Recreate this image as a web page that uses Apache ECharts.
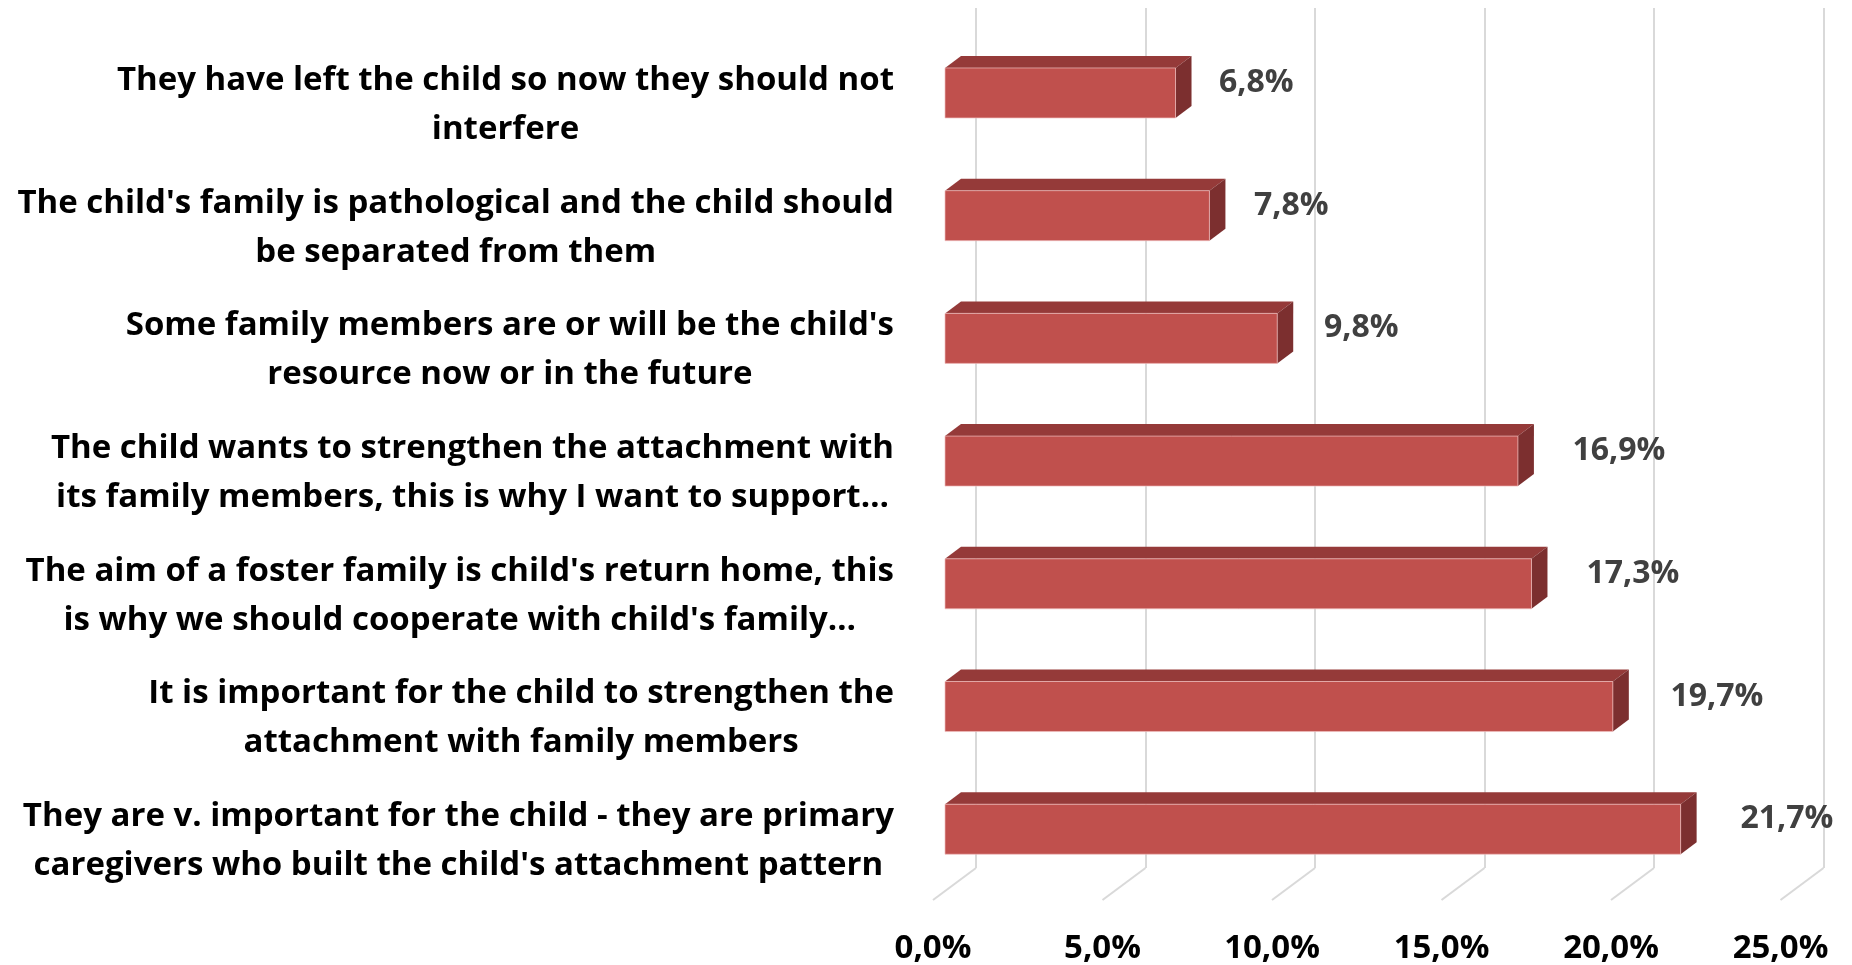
<!DOCTYPE html>
<html>
<head>
<meta charset="utf-8">
<title>Attitudes towards the child's family</title>
<script src="https://cdn.jsdelivr.net/npm/echarts@6/dist/echarts.min.js"></script>
<style>
  html, body { margin: 0; padding: 0; background: #ffffff; }
  #chart { width: 1852px; height: 965px; }
</style>
</head>
<body>
<div id="chart"></div>
<script>
// Category labels, top to bottom (line breaks as printed)
const categories = [
  "They have left the child so now they should not\ninterfere",
  "The child's family is pathological and the child should\nbe separated from them",
  "Some family members are or will be the child's\nresource now or in the future",
  "The child wants to strengthen the attachment with\nits family members, this is why I want to support\u2026",
  "The aim of a foster family is child's return home, this\nis why we should cooperate with child's family\u2026",
  "It is important for the child to strengthen the\nattachment with family members",
  "They are v. important for the child - they are primary\ncaregivers who built the child's attachment pattern"
];

// Share of answers, percent
const values = [6.8, 7.8, 9.8, 16.9, 17.3, 19.7, 21.7];

// Value axis ticks
const tickValues = [0, 5, 10, 15, 20, 25];

const FONT = '"Open Sans", Lato, sans-serif';
const CAT_FONT = 'bold 33px ' + FONT;
const VAL_FONT = 'bold 32px ' + FONT;
const AXIS_MAX = 25;
const DEPTH_X = 16, DEPTH_Y = 12;       // bar depth
const FLOOR_X = 43, FLOOR_Y = 32;       // floor depth
const fmt = v => v.toFixed(1).replace('.', ',') + '%';

// measure label lines so each block is right-aligned with centred lines
const measureCtx = document.createElement('canvas').getContext('2d');
measureCtx.font = CAT_FONT;
const blockWidth = s => Math.max(...s.split('\n').map(l => measureCtx.measureText(l).width));

const chart = echarts.init(document.getElementById('chart'), null, { renderer: 'canvas' });

function renderBar(params, api) {
  const v = api.value(0), idx = api.value(1);
  const p0 = api.coord([0, idx]);
  const p1 = api.coord([v, idx]);
  const band = api.size([0, 1])[1];
  const h = band * 0.4075;
  const x0 = p0[0], x1 = p1[0];
  const yt = p0[1] - h / 2, yb = p0[1] + h / 2;
  return {
    type: 'group',
    children: [
      { type: 'polygon', shape: { points: [[x0, yt], [x0 + DEPTH_X, yt - DEPTH_Y], [x1 + DEPTH_X, yt - DEPTH_Y], [x1, yt]] },
        style: { fill: '#953a39' } },
      { type: 'polygon', shape: { points: [[x1, yt], [x1 + DEPTH_X, yt - DEPTH_Y], [x1 + DEPTH_X, yb - DEPTH_Y], [x1, yb]] },
        style: { fill: '#7c2f2f' } },
      { type: 'rect', shape: { x: x0, y: yt, width: x1 - x0, height: h },
        style: { fill: '#c0504d', stroke: 'rgba(240,190,190,0.7)', lineWidth: 1 } },
      { type: 'text', x: x1 + DEPTH_X + 20 + 1.1 * v, y: p0[1] - 10,
        style: { text: fmt(v), fill: '#404040', font: VAL_FONT,
                 textAlign: 'left', textVerticalAlign: 'middle' } }
    ]
  };
}

function renderCategory(params, api) {
  const idx = api.value(1);
  const p = api.coord([0, idx]);
  const text = categories[idx];
  const right = p[0] - 51;
  return {
    type: 'text',
    x: right - blockWidth(text) / 2,
    y: p[1] + 12,
    style: { text: text, fill: '#000000', font: CAT_FONT,
             textAlign: 'center', textVerticalAlign: 'middle', lineHeight: 49 }
  };
}

function renderFloor(params, api) {
  const p = api.coord([api.value(0), 0]);
  return {
    type: 'line',
    shape: { x1: p[0], y1: p[1], x2: p[0] - FLOOR_X, y2: p[1] + FLOOR_Y },
    style: { stroke: '#d9d9d9', lineWidth: 2 }
  };
}

const option = {
  backgroundColor: '#ffffff',
  animation: false,
  grid: [
    // front plane of the bars
    { left: 945, width: 847.5, top: 31.6, height: 859 },
    // back wall with gridlines
    { left: 976, width: 847.5, top: 8, bottom: 97 },
    // front edge of the floor, carries the tick labels
    { left: 933, width: 847.5, top: 500, bottom: 65 }
  ],
  xAxis: [
    { gridIndex: 0, type: 'value', min: 0, max: AXIS_MAX, interval: 5, show: false },
    { gridIndex: 1, type: 'value', min: 0, max: AXIS_MAX, interval: 5,
      axisLine: { show: false }, axisTick: { show: false }, axisLabel: { show: false },
      splitLine: { show: true, lineStyle: { color: '#d9d9d9', width: 2 } } },
    { gridIndex: 2, type: 'value', min: 0, max: AXIS_MAX, interval: 5,
      axisLine: { show: false }, axisTick: { show: false }, splitLine: { show: false },
      axisLabel: { margin: 32, formatter: v => fmt(v), color: '#000000',
                   fontFamily: FONT, fontWeight: 'bold', fontSize: 33, lineHeight: 33 } }
  ],
  yAxis: [
    { gridIndex: 0, type: 'category', inverse: true, data: categories, show: false },
    { gridIndex: 1, type: 'value', min: 0, max: 1, show: false },
    { gridIndex: 2, type: 'value', min: 0, max: 1, show: false }
  ],
  series: [
    { type: 'custom', name: 'floor', xAxisIndex: 1, yAxisIndex: 1, silent: true,
      data: tickValues.map(v => [v]), encode: { x: 0 }, renderItem: renderFloor, z: 1 },
    { type: 'custom', name: 'share', xAxisIndex: 0, yAxisIndex: 0,
      data: values.map((v, i) => [v, i]), encode: { x: 0, y: 1 }, renderItem: renderBar, z: 3 },
    { type: 'custom', name: 'categories', xAxisIndex: 0, yAxisIndex: 0, silent: true,
      data: categories.map((c, i) => [0, i]), encode: { x: 0, y: 1 }, renderItem: renderCategory, z: 3 }
  ]
};

chart.setOption(option);
</script>
</body>
</html>
